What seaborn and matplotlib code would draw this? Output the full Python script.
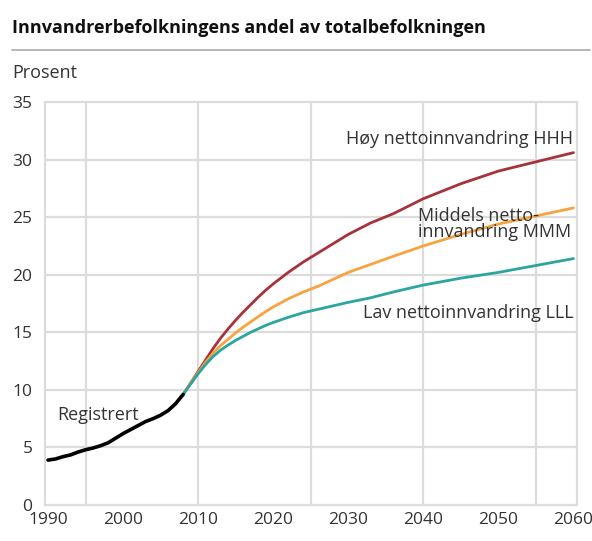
import matplotlib.pyplot as plt
import seaborn as sns
import pandas as pd

# ----------------------------
# DATA
# ----------------------------
reg_years = list(range(1990, 2009))
reg_values = [3.9, 4.0, 4.2, 4.35, 4.6, 4.8, 4.95, 5.15, 5.4, 5.8,
              6.2, 6.55, 6.9, 7.25, 7.5, 7.8, 8.2, 8.8, 9.6]

proj_years = [2008, 2009, 2010, 2011, 2012, 2013, 2014, 2015, 2016,
              2017, 2018, 2019, 2020, 2022, 2024, 2026, 2028, 2030,
              2033, 2036, 2040, 2045, 2050, 2055, 2060]
high_values = [9.6, 10.6, 11.6, 12.6, 13.6, 14.5, 15.3, 16.05, 16.75,
               17.4, 18.05, 18.65, 19.2, 20.2, 21.1, 21.9, 22.7, 23.5,
               24.5, 25.3, 26.6, 27.9, 29.0, 29.8, 30.6]
mid_values = [9.6, 10.6, 11.5, 12.4, 13.2, 13.85, 14.4, 14.95, 15.45,
              15.9, 16.35, 16.8, 17.2, 17.9, 18.5, 19.0, 19.6, 20.2,
              20.9, 21.6, 22.5, 23.5, 24.4, 25.1, 25.8]
low_values = [9.6, 10.5, 11.4, 12.2, 12.9, 13.45, 13.9, 14.3, 14.65,
              15.0, 15.3, 15.6, 15.85, 16.3, 16.7, 17.0, 17.3, 17.6,
              18.0, 18.5, 19.1, 19.7, 20.2, 20.8, 21.4]

series_names = ["Høy", "Middels", "Lav"]
series_colors = ["#a8323a", "#f8a340", "#2aa5a0"]

proj = pd.DataFrame({
    "year": proj_years * 3,
    "value": high_values + mid_values + low_values,
    "series": [n for n in series_names for _ in proj_years],
})
reg = pd.DataFrame({"year": reg_years, "value": reg_values})

# ----------------------------
# PLOT
# ----------------------------
sns.set_style("white")
plt.rcParams['font.family'] = ['Open Sans', 'DejaVu Sans']

fig = plt.figure(figsize=(5.92, 5.41), dpi=100)
ax = fig.add_axes([0.076, 0.0665, 0.899, 0.745])

grid_col = "#dcdcdc"
for x in [1995, 2010, 2025, 2040, 2055]:
    ax.axvline(x, color=grid_col, lw=1.6, zorder=0)
for y in range(5, 35, 5):
    ax.axhline(y, color=grid_col, lw=1.6, zorder=0)

sns.lineplot(data=proj, x="year", y="value", hue="series",
             palette=dict(zip(series_names, series_colors)),
             linewidth=2, legend=False, ax=ax, zorder=3)
sns.lineplot(data=reg, x="year", y="value", color="black",
             linewidth=2.6, ax=ax, zorder=4)

ax.set_xlim(1989.6, 2060.5)
ax.set_ylim(0, 35)
ax.set_xticks(range(1990, 2061, 10))
ax.set_xticks(range(1995, 2060, 10), minor=True)
ax.set_yticks(range(0, 36, 5))
ax.tick_params(axis="x", which="both", direction="in", length=8,
               width=1.6, color=grid_col, labelsize=12.5, pad=5,
               labelcolor="#333333")
ax.tick_params(axis="y", length=0, labelsize=12.5, pad=9,
               labelcolor="#333333")
ax.set_xlabel("")
ax.set_ylabel("")
for s in ax.spines.values():
    s.set_color(grid_col)
    s.set_linewidth(1.6)

txt = dict(fontsize=13, color="#333333")
ax.text(2060, 31.75, "Høy nettoinnvandring HHH", ha="right", va="center", **txt)
ax.text(2039.3, 24.4, "Middels netto-\ninnvandring MMM", ha="left",
        va="center", linespacing=0.9, **txt)
ax.text(2060, 16.7, "Lav nettoinnvandring LLL", ha="right", va="center", **txt)
ax.text(1991.2, 7.8, "Registrert", ha="left", va="center", **txt)

fig.text(0.02, 0.948, "Innvandrerbefolkningens andel av totalbefolkningen",
         fontsize=13, fontweight="bold", color="#111111", va="center")
fig.add_artist(plt.Line2D([0.02, 0.997], [0.907, 0.907], color="#aaaaaa",
                          lw=1.2, transform=fig.transFigure))
fig.text(0.02, 0.865, "Prosent", fontsize=13, color="#333333", va="center")

plt.savefig("out.png", dpi=100)
plt.close()
